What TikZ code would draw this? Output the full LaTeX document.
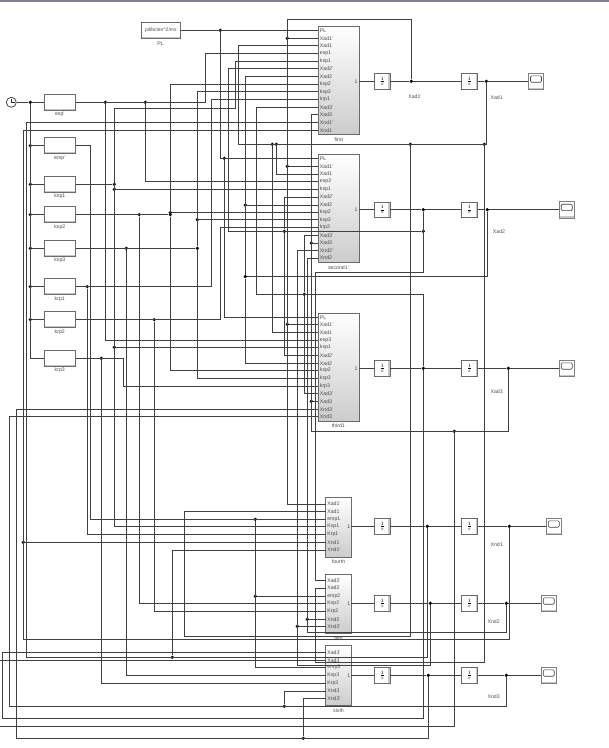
\documentclass[tikz,border=0pt]{standalone}
\usepackage{fontspec}
\setmainfont{Liberation Sans}
\definecolor{wirec}{HTML}{404040}
\definecolor{blockc}{HTML}{6A6A6A}
\definecolor{bandc}{HTML}{7E8190}
\newcommand{\pin}[4]{\coordinate (#1) at (#2,#3);\node[pintext] at (#1)(#1t){#4};}
\tikzset{
	wire/.style={draw=wirec,line width=0.75pt},
	dot/.style={circle,fill=black,inner sep=0pt,minimum size=3.6pt},
	txt/.style={font=\fontsize{5.2}{6}\selectfont,text=black!70,inner sep=0pt},
	pintext/.style={txt,anchor=west,xshift=1.4pt},
	subsys/.style={draw=blockc,line width=0.8pt,top color=white,middle color=white,bottom color=black!20,inner sep=0pt},
	lowband/.style={path picture={\fill[black!22]([yshift=1.6pt]path picture bounding box.south west)rectangle(path picture bounding box.south east);}},
	sideband/.style={path picture={\fill[black!22]([xshift=-1.6pt]path picture bounding box.south east)rectangle(path picture bounding box.north east);}},
	gainbox/.style={draw=blockc,line width=0.8pt,fill=white,lowband,minimum width=31pt,minimum height=15.6pt,inner sep=0pt},
	intbox/.style={draw=blockc,line width=0.8pt,fill=white,sideband,minimum width=15.7pt,minimum height=15.2pt,inner sep=0pt,font=\fontsize{6.5}{6.5}\selectfont},
	scopebox/.style={draw=black!50,line width=0.8pt,fill=white,lowband,minimum width=15.6pt,minimum height=16.6pt,inner sep=0pt},
	screen/.style={draw=black!75,line width=0.6pt,rounded corners=1.2pt,minimum width=11pt,minimum height=6.4pt,inner sep=0pt},
}
\begin{document}
\begin{tikzpicture}[x=1pt,y=-1pt]
	\useasboundingbox (0,0) rectangle (609,748);
	\fill[bandc] (0,0) rectangle (609,2.3);

	\node[circle,draw=black!80,line width=0.7pt,fill=white,minimum size=10pt,inner sep=0pt] at (11.3,102.3)(clock){};
	\draw[black!85,line width=0.7pt] (clock.center)--++(0,-3.6) (clock.center)--++(3.4,0);

	\node[gainbox,minimum width=39pt] at (160.8,30.3)(pl){\fontsize{5}{6}\selectfont\color{black!70}pil/bclen\^{}2/ms};
	\node[txt] at (160.5,43.5)(plt){PL};
	\node[gainbox] at (59.8,102.3)(esp){};
	\node[txt] at (59.8,114.3)(espt){esp'};
	\node[gainbox] at (59.8,145.6)(emp){};
	\node[txt] at (59.8,158)(empt){emp'};
	\node[gainbox] at (59.8,184.3)(ksp1){};
	\node[txt] at (59.8,196.3)(ksp1t){ksp1};
	\node[gainbox] at (59.8,214.6)(ksp2){};
	\node[txt] at (59.8,227.3)(ksp2t){ksp2};
	\node[gainbox] at (59.8,248.3)(ksp3){};
	\node[txt] at (59.8,260.3)(ksp3t){ksp3};
	\node[gainbox] at (59.8,286.6)(krp1){};
	\node[txt] at (59.8,299.3)(krp1t){krp1};
	\node[gainbox] at (59.8,319.6)(krp2){};
	\node[txt] at (59.8,332.3)(krp2t){krp2};
	\node[gainbox] at (59.8,358.3)(krp3){};
	\node[txt] at (59.8,370.3)(krp3t){krp3};

	\node[subsys,minimum width=41pt,minimum height=108pt] at (338.8,80.3)(first){};
	\node[txt] at (338.8,139.3)(firstt){first};
	\node[subsys,minimum width=41pt,minimum height=108pt] at (338.8,208.3)(second){};
	\node[txt] at (338.5,267.3)(secondt){second1'};
	\node[subsys,minimum width=41pt,minimum height=108pt] at (338.8,367.3)(third){};
	\node[txt] at (338.3,425.3)(thirdt){third1};
	\node[subsys,minimum width=25.6pt,minimum height=59.7pt] at (338.5,527.1)(fourth){};
	\node[txt] at (338.5,561.3)(fourtht){fourth};
	\node[subsys,minimum width=25.6pt,minimum height=59pt] at (338.5,603.8)(fifth){};
	\node[txt] at (338.5,638.3)(fiftht){fifth};
	\node[subsys,minimum width=25.6pt,minimum height=60pt] at (338.5,675.7)(sixth){};
	\node[txt] at (338.5,710.3)(sixtht){sixth};

	\node[intbox] at (382.2,81.3)(inta1){$\frac{1}{s}$};
	\node[intbox] at (469.3,81.3)(intb1){$\frac{1}{s}$};
	\node[intbox] at (382.2,209.7)(inta2){$\frac{1}{s}$};
	\node[intbox] at (469.3,209.7)(intb2){$\frac{1}{s}$};
	\node[intbox] at (382.2,368.3)(inta3){$\frac{1}{s}$};
	\node[intbox] at (469.3,368.3)(intb3){$\frac{1}{s}$};
	\node[intbox] at (382.2,526.3)(inta4){$\frac{1}{s}$};
	\node[intbox] at (469.3,526.3)(intb4){$\frac{1}{s}$};
	\node[intbox] at (382.2,603.3)(inta5){$\frac{1}{s}$};
	\node[intbox] at (469.3,603.3)(intb5){$\frac{1}{s}$};
	\node[intbox] at (382.2,675.3)(inta6){$\frac{1}{s}$};
	\node[intbox] at (469.3,675.3)(intb6){$\frac{1}{s}$};

	\node[scopebox] at (536,81.3)(sc1){};
	\node[screen] at (536,79)(sc1s){};
	\node[scopebox] at (566.7,209.7)(sc2){};
	\node[screen] at (566.7,207.4)(sc2s){};
	\node[scopebox] at (566.7,368.3)(sc3){};
	\node[screen] at (566.7,366)(sc3s){};
	\node[scopebox] at (553.8,526.3)(sc4){};
	\node[screen] at (553.8,524)(sc4s){};
	\node[scopebox] at (548.7,603.3)(sc5){};
	\node[screen] at (548.7,601)(sc5s){};
	\node[scopebox] at (548.7,675.3)(sc6){};
	\node[screen] at (548.7,673)(sc6s){};

	\node[txt] at (415,97)(ta1){Xad1'};
	\node[txt] at (496.7,98)(tb1){Xad1};
	\node[txt] at (499,232)(tb2){Xad2};
	\node[txt] at (496.7,392)(tb3){Xad3};
	\node[txt] at (496.7,545)(tb4){Xnd1};
	\node[txt] at (493.7,621.3)(tb5){Xnd2};
	\node[txt] at (493.7,697)(tb6){Xnd3};

	\pin{first1}{318.3}{30.3}{PL}
	\pin{first2}{318.3}{38.3}{Xad1'}
	\pin{first3}{318.3}{45.7}{Xad1}
	\pin{first4}{318.3}{53.3}{esp1}
	\pin{first5}{318.3}{61.3}{ksp1}
	\pin{first6}{318.3}{68.7}{Xad2'}
	\pin{first7}{318.3}{76.3}{Xad2}
	\pin{first8}{318.3}{84.3}{ksp2}
	\pin{first9}{318.3}{91.7}{ksp3}
	\pin{first10}{318.3}{99.3}{krp1}
	\pin{first11}{318.3}{107.3}{Xad3'}
	\pin{first12}{318.3}{114.7}{Xad3}
	\pin{first13}{318.3}{122.3}{Xnd1'}
	\pin{first14}{318.3}{130.3}{Xnd1}

	\pin{second1}{318.3}{158.3}{PL}
	\pin{second2}{318.3}{166.3}{Xad1'}
	\pin{second3}{318.3}{174}{Xad1}
	\pin{second4}{318.3}{181.5}{esp2}
	\pin{second5}{318.3}{189.3}{ksp1}
	\pin{second6}{318.3}{197}{Xad2'}
	\pin{second7}{318.3}{205}{Xad2}
	\pin{second8}{318.3}{212.5}{ksp2}
	\pin{second9}{318.3}{219.7}{ksp3}
	\pin{second10}{318.3}{227.3}{krp2}
	\pin{second11}{318.3}{235.3}{Xad3'}
	\pin{second12}{318.3}{243}{Xad3}
	\pin{second13}{318.3}{250.7}{Xnd2'}
	\pin{second14}{318.3}{258}{Xnd2}

	\pin{third1}{318.3}{317.3}{PL}
	\pin{third2}{318.3}{324.3}{Xad1'}
	\pin{third3}{318.3}{332.5}{Xad1}
	\pin{third4}{318.3}{340.5}{esp3}
	\pin{third5}{318.3}{347.3}{ksp1}
	\pin{third6}{318.3}{355.3}{Xad2'}
	\pin{third7}{318.3}{363.3}{Xad2}
	\pin{third8}{318.3}{370.3}{ksp2}
	\pin{third9}{318.3}{378.3}{ksp3}
	\pin{third10}{318.3}{386.3}{krp3}
	\pin{third11}{318.3}{393.3}{Xad3'}
	\pin{third12}{318.3}{401.3}{Xad3}
	\pin{third13}{318.3}{409.3}{Xnd3'}
	\pin{third14}{318.3}{416.3}{Xnd3}

	\pin{fourth1}{325.7}{504}{Xad1'}
	\pin{fourth2}{325.7}{511.7}{Xad1}
	\pin{fourth3}{325.7}{519.3}{emp1}
	\pin{fourth4}{325.7}{526.3}{Ksp1}
	\pin{fourth5}{325.7}{534.3}{Krp1}
	\pin{fourth6}{325.7}{542.3}{Xnd1}
	\pin{fourth7}{325.7}{550}{Xnd1'}

	\pin{fifth1}{325.7}{580.3}{Xad2'}
	\pin{fifth2}{325.7}{588}{Xad2}
	\pin{fifth3}{325.7}{596.3}{emp2}
	\pin{fifth4}{325.7}{603.3}{Ksp2}
	\pin{fifth5}{325.7}{611.3}{Krp2}
	\pin{fifth6}{325.7}{619.3}{Xnd2}
	\pin{fifth7}{325.7}{626.3}{Xnd2'}

	\pin{sixth1}{325.7}{652.3}{Xad3'}
	\pin{sixth2}{325.7}{660.3}{Xad3}
	\pin{sixth3}{325.7}{667.3}{emp3}
	\pin{sixth4}{325.7}{675.3}{Ksp3}
	\pin{sixth5}{325.7}{683.3}{Krp3}
	\pin{sixth6}{325.7}{691}{Xnd3}
	\pin{sixth7}{325.7}{698.3}{Xnd3'}

	\node[txt] at (356,81.3)(out1){1};
	\node[txt] at (356,209.7)(out2){1};
	\node[txt] at (356,368.3)(out3){1};
	\node[txt] at (348.7,526.3)(out4){1};
	\node[txt] at (348.7,603.3)(out5){1};
	\node[txt] at (348.7,675.3)(out6){1};
	\coordinate (firstout) at (359.3,81.3);
	\coordinate (secondout) at (359.3,209.7);
	\coordinate (thirdout) at (359.3,368.3);
	\coordinate (fourthout) at (351.3,526.3);
	\coordinate (fifthout) at (351.3,603.3);
	\coordinate (sixthout) at (351.3,675.3);
	\coordinate (cut1) at (0,726.3);
	\coordinate (cut2) at (0,660.3);

	\node[dot] at (30.3,102.3)(b1){};
	\node[dot] at (30.3,145.6)(b2){};
	\node[dot] at (30.3,184.3)(b3){};
	\node[dot] at (30.3,214.6)(b4){};
	\node[dot] at (30.3,248.3)(b5){};
	\node[dot] at (30.3,286.6)(b6){};
	\node[dot] at (30.3,319.6)(b7){};
	\node[dot] at (105.3,102.3)(e1){};
	\node[dot] at (145.3,102.3)(e2){};
	\node[dot] at (255.3,519.3)(m1){};
	\node[dot] at (255.3,596.3)(m2){};
	\node[dot] at (114.3,184.3)(k1){};
	\node[dot] at (114.3,189.3)(k2){};
	\node[dot] at (114.3,347.3)(k3){};
	\node[dot] at (139.3,214.6)(p1){};
	\node[dot] at (170.3,214.6)(p2){};
	\node[dot] at (170.3,212.5)(p3){};
	\node[dot] at (126.3,248.3)(q1){};
	\node[dot] at (197.3,219.7)(q2){};
	\node[dot] at (197.3,248.3)(q3){};
	\node[dot] at (87.3,286.6)(r1){};
	\node[dot] at (154.3,319.6)(s1){};
	\node[dot] at (101.3,358.3)(t1){};
	\node[dot] at (220.3,30.3)(pl1){};
	\node[dot] at (224.3,158.3)(pl2){};
	\node[dot] at (411.3,81.3)(n1a){};
	\node[dot] at (287.3,38.3)(n1a1){};
	\node[dot] at (287.3,166.3)(n1a2){};
	\node[dot] at (287.3,324.3)(n1a3){};
	\node[dot] at (486.3,81.3)(n1b){};
	\node[dot] at (484.3,144.3)(n1c){};
	\node[dot] at (410.3,144.3)(n1d){};
	\node[dot] at (276.3,144.3)(n1e){};
	\node[dot] at (272.3,144.3)(n1f){};
	\node[dot] at (423.3,209.7)(n2a){};
	\node[dot] at (423.3,231.3)(n2b){};
	\node[dot] at (284.3,231.3)(n2c){};
	\node[dot] at (487.3,209.7)(n2e){};
	\node[dot] at (245.3,276.5)(n2f){};
	\node[dot] at (245.3,205)(n2g){};
	\node[dot] at (423.3,368.3)(n3a){};
	\node[dot] at (304.3,294.3)(n3b){};
	\node[dot] at (508.3,368.3)(n3c){};
	\node[dot] at (454.3,431.3)(n3d){};
	\node[dot] at (311.3,243)(n3e){};
	\node[dot] at (311.3,401.3)(n3f){};
	\node[dot] at (427.3,526.3)(n4a){};
	\node[dot] at (172.3,657.3)(n4b){};
	\node[dot] at (509.3,526.3)(n4c){};
	\node[dot] at (23.3,542.3)(n4d){};
	\node[dot] at (430.3,603.3)(n5a){};
	\node[dot] at (297.3,626.3)(n5b){};
	\node[dot] at (506.3,603.3)(n5c){};
	\node[dot] at (307.3,619.3)(n5d){};
	\node[dot] at (428.3,675.3)(n6a){};
	\node[dot] at (303.3,738.3)(n6b){};
	\node[dot] at (506.3,675.3)(n6c){};
	\node[dot] at (284.3,706.3)(n6d){};

	\draw[wire](clock)--(b1);
	\draw[wire](b1)--(esp);
	\draw[wire](b1)|-(krp3);
	\draw[wire](b2)--(emp);
	\draw[wire](b3)--(ksp1);
	\draw[wire](b4)--(ksp2);
	\draw[wire](b5)--(ksp3);
	\draw[wire](b6)--(krp1);
	\draw[wire](b7)--(krp2);

	\draw[wire](pl)--(first1);
	\draw[wire](pl1)|-(second1);
	\draw[wire](pl2)|-(third1);

	\draw[wire](esp)--(205.3,102.3)|-(first4);
	\draw[wire](e1)|-(third4);
	\draw[wire](e2)|-(second4);
	\draw[wire](emp)--(90.3,145.6)|-(fourth3);
	\draw[wire](m1)|-(sixth3);
	\draw[wire](m2)--(fifth3);
	\draw[wire](ksp1)--(k1);
	\draw[wire](first5)-|(235.3,108.3)--(114.3,108.3)|-(fourth4);
	\draw[wire](k2)--(second5);
	\draw[wire](k3)--(third5);
	\draw[wire](ksp2)--(p2);
	\draw[wire](p1)|-(fifth4);
	\draw[wire](first8)-|(p2)|-(third8);
	\draw[wire](p3)--(second8);
	\draw[wire](ksp3)--(q3);
	\draw[wire](q1)|-(sixth4);
	\draw[wire](first9)-|(q3)|-(third9);
	\draw[wire](q2)--(second9);
	\draw[wire](krp1)--(211.3,286.6)|-(first10);
	\draw[wire](r1)|-(fourth5);
	\draw[wire](krp2)--(220.3,319.6)|-(second10);
	\draw[wire](s1)|-(fifth5);
	\draw[wire](krp3)--(123.3,358.3)|-(third10);
	\draw[wire](t1)|-(sixth5);

	\draw[wire](firstout)--(inta1);
	\draw[wire](inta1)--(n1a);
	\draw[wire](n1a)--(intb1);
	\draw[wire](intb1)--(n1b);
	\draw[wire](n1b)--(sc1);
	\draw[wire](n1a)--(411.3,19.3)--(287.3,19.3)|-(fourth1);
	\draw[wire](n1a1)--(first2);
	\draw[wire](n1a2)--(second2);
	\draw[wire](n1a3)--(third2);
	\draw[wire](n1b)|-(238.3,144.3)|-(first3);
	\draw[wire](n1e)|-(second3);
	\draw[wire](n1f)|-(third3);
	\draw[wire](n1d)|-(184.3,636.7)|-(fourth2);
	\draw[wire](n1c)|-(315.7,662.7)|-(fifth2);

	\draw[wire](secondout)--(inta2);
	\draw[wire](inta2)--(n2a);
	\draw[wire](n2a)--(intb2);
	\draw[wire](intb2)--(n2e);
	\draw[wire](n2e)--(sc2);
	\draw[wire](n2a)|-(315.5,272.3)|-(fifth1);
	\draw[wire](n2b)--(228.3,231.3)|-(first6);
	\draw[wire](second6)-|(n2c)|-(third6);
	\draw[wire](n2e)|-(n2f);
	\draw[wire](first7)-|(n2f)|-(third7);
	\draw[wire](n2g)--(second7);

	\draw[wire](thirdout)--(inta3);
	\draw[wire](inta3)--(n3a);
	\draw[wire](n3a)--(intb3);
	\draw[wire](intb3)--(n3c);
	\draw[wire](n3c)--(sc3);
	\draw[wire](n3a)|-(256.3,294.3)|-(first11);
	\draw[wire](second11)-|(n3b)|-(third11);
	\draw[wire](n3a)|-(2.3,718.3)|-(sixth1);
	\draw[wire](n3c)|-(311.3,431.3)|-(first12);
	\draw[wire](n3e)--(second12);
	\draw[wire](n3f)--(third12);
	\draw[wire](n3d)|-(cut1);
	\draw[wire](sixth2)--(cut2);

	\draw[wire](fourthout)--(inta4);
	\draw[wire](inta4)--(n4a);
	\draw[wire](n4a)--(intb4);
	\draw[wire](intb4)--(n4c);
	\draw[wire](n4c)--(sc4);
	\draw[wire](n4a)|-(26.3,657.3)|-(first13);
	\draw[wire](n4b)|-(fourth7);
	\draw[wire](n4c)|-(23.3,639.3)|-(first14);
	\draw[wire](n4d)--(fourth6);

	\draw[wire](fifthout)--(inta5);
	\draw[wire](inta5)--(n5a);
	\draw[wire](n5a)--(intb5);
	\draw[wire](intb5)--(n5c);
	\draw[wire](n5c)--(sc5);
	\draw[wire](n5a)|-(297.3,665.3)|-(second13);
	\draw[wire](n5b)--(fifth7);
	\draw[wire](n5c)|-(307.3,632.7)|-(second14);
	\draw[wire](n5d)--(fifth6);

	\draw[wire](sixthout)--(inta6);
	\draw[wire](inta6)--(n6a);
	\draw[wire](n6a)--(intb6);
	\draw[wire](intb6)--(n6c);
	\draw[wire](n6c)--(sc6);
	\draw[wire](n6a)|-(16.3,738.3)|-(third13);
	\draw[wire](n6b)|-(sixth7);
	\draw[wire](n6c)|-(9.3,706.3)|-(third14);
	\draw[wire](n6d)|-(sixth6);
\end{tikzpicture}
\end{document}
